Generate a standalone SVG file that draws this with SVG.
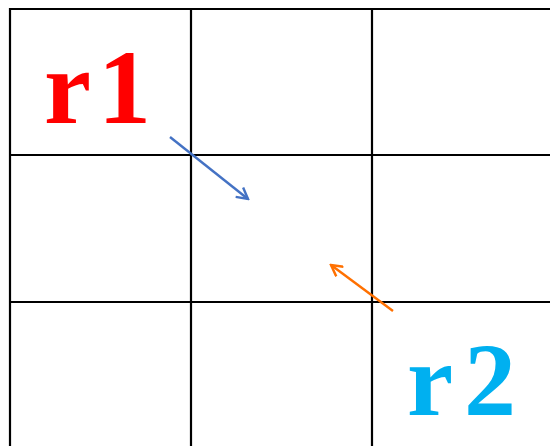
<svg xmlns="http://www.w3.org/2000/svg" width="550" height="446" viewBox="0 0 550 446">
<style>
.grid{stroke:#000;stroke-width:2.2;fill:none}
.lbl{font-family:"Liberation Serif","DejaVu Serif",serif;font-weight:bold}
</style>
<defs>
<marker id="ab" viewBox="0 0 14 14" refX="12" refY="7" markerWidth="14" markerHeight="14" markerUnits="userSpaceOnUse" orient="auto"><path d="M1,1 L12,7 L1,13" fill="none" stroke="#4472C4" stroke-width="2.4"/></marker>
<marker id="ao" viewBox="0 0 14 14" refX="12" refY="7" markerWidth="14" markerHeight="14" markerUnits="userSpaceOnUse" orient="auto"><path d="M1,1 L12,7 L1,13" fill="none" stroke="#FF7000" stroke-width="2.4"/></marker>
</defs>
<rect width="550" height="446" fill="#fff"/>
<g id="grid" class="grid">
<line x1="10" y1="9" x2="550" y2="9"/>
<line x1="10" y1="155" x2="550" y2="155"/>
<line x1="10" y1="302" x2="550" y2="302"/>
<line x1="10" y1="8" x2="10" y2="446"/>
<line x1="191" y1="8" x2="191" y2="446"/>
<line x1="372" y1="8" x2="372" y2="446"/>
</g>
<g id="r1"><text class="lbl" x="44" y="123" font-size="106" fill="#FF0000" textLength="107">r1</text></g>
<g id="r2"><text class="lbl" x="407" y="415" font-size="104" fill="#00B0F0" textLength="109">r2</text></g>
<g id="connectors" fill="none" stroke-width="2.4">
<line x1="170" y1="137" x2="248" y2="199" stroke="#4472C4" marker-end="url(#ab)"/>
<line x1="393" y1="311" x2="331" y2="265" stroke="#FF7000" marker-end="url(#ao)"/>
</g>
</svg>
